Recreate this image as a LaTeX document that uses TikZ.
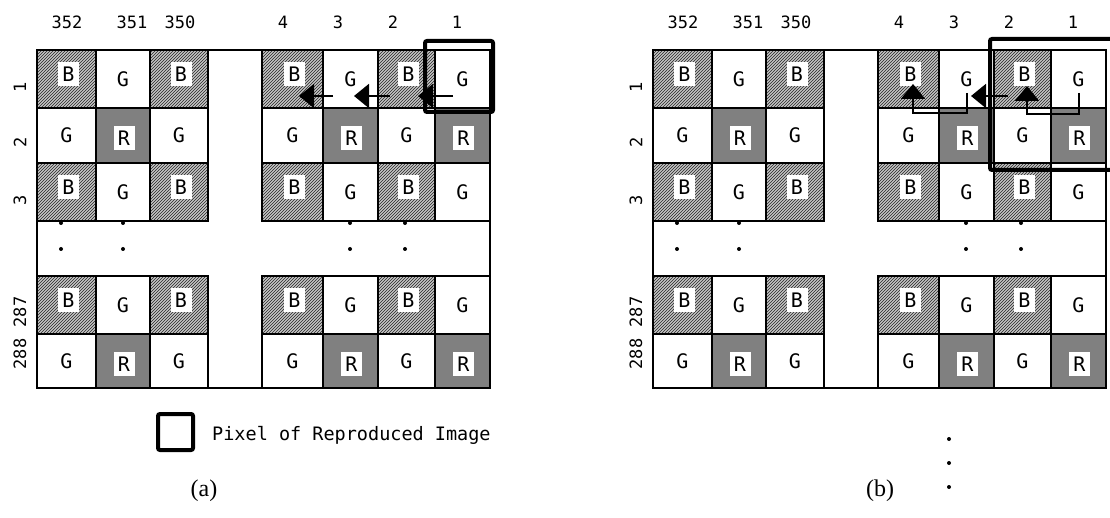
\documentclass[tikz,border=0pt]{standalone}
\usepackage{fontspec}
\setmainfont{Liberation Serif}
\setmonofont{DejaVu Sans Mono}
\usetikzlibrary{patterns,arrows.meta}
\begin{document}
\begin{tikzpicture}[x=1pt,y=-1pt,
  gridline/.style={draw=black,line width=2pt},
  bfill/.style={fill=gray!45,postaction={pattern=north east lines,pattern color=black!85}},
  rfill/.style={fill=black!50},
  letterfont/.style={font=\ttfamily\fontsize{20}{20}\selectfont},
  lbox/.style={letterfont,fill=white,inner sep=0pt,minimum width=21pt,minimum height=24pt},
  glet/.style={letterfont,inner sep=0pt},
  collab/.style={font=\ttfamily\fontsize{17}{17}\selectfont,inner sep=0pt},
  rowlab/.style={collab,rotate=90},
  dotn/.style={circle,fill=black,inner sep=0pt,minimum size=4pt},
  thickbox/.style={draw=black,line width=4pt,rounded corners=2pt},
  arr/.style={line width=2pt,-{Triangle[length=15pt,width=24pt]}},
  caplab/.style={font=\fontsize{24}{24}\selectfont,inner sep=0pt}
]
\useasboundingbox (0,0) rectangle (1110,518);
\fill[white] (0,0) rectangle (1110,518);

\foreach \ox/\pn in {0/a,616/b}{
\begin{scope}[xshift=\ox pt]
  % fills and letters
  \foreach \xa/\xb/\p/\cn in {37/96/1/c352,96/150/0/c351,150/208/1/c350,262/323/1/c4,323/378/0/c3,378/435/1/c2,435/490/0/c1}{
    \foreach \ya/\yb/\q/\rn in {50/108/1/r1,108/163/0/r2,163/221/1/r3,276/334/1/r287,334/388/0/r288}{
      \pgfmathtruncatemacro\t{2*\q+\p}
      \ifnum\t=3
        \path[bfill] (\xa,\ya) rectangle (\xb,\yb);
        \node[lbox] (\pn\rn\cn) at ({(\xa+\xb)/2+2},{(\ya+\yb)/2-5}) {B};
      \else\ifnum\t=0
        \path[rfill] (\xa,\ya) rectangle (\xb,\yb);
        \node[lbox] (\pn\rn\cn) at ({(\xa+\xb)/2+1},{(\ya+\yb)/2+3}) {R};
      \else
        \node[glet] (\pn\rn\cn) at ({(\xa+\xb)/2},{(\ya+\yb)/2}) {G};
      \fi\fi
    }
  }
  % grid lines
  \foreach \xa/\xb in {37/96,96/150,150/208,262/323,323/378,378/435,435/490}{
    \foreach \ya/\yb in {50/108,108/163,163/221,276/334,334/388}{
      \draw[gridline] (\xa,\ya) rectangle (\xb,\yb);
    }
  }
  \draw[gridline] (37,50) rectangle (490,388);
  % column labels
  \foreach \t/\x in {352/67,351/132,350/180,4/283,3/338,2/393,1/457}{
    \node[collab] (\pn col\t) at (\x,22) {\t};
  }
  % row labels
  \foreach \t/\y in {1/87,2/142,3/200,287/312,288/354}{
    \node[rowlab] (\pn row\t) at (20,\y) {\t};
  }
  % dots
  \foreach \x in {61,123,350,405}{
    \node[dotn] (\pn dA\x) at (\x,223) {};
    \node[dotn] (\pn dB\x) at (\x,249) {};
  }
\end{scope}
}

% panel (a) thick box and arrows
\draw[thickbox] (425,41) rectangle (493,112);
\coordinate (a1s) at (453,96); \coordinate (a1e) at (418,96);
\coordinate (a2s) at (390,96); \coordinate (a2e) at (354,96);
\coordinate (a3s) at (333,96); \coordinate (a3e) at (299,96);
\draw[arr] (a1s) -- (a1e);
\draw[arr] (a2s) -- (a2e);
\draw[arr] (a3s) -- (a3e);

% legend
\node[draw,line width=4pt,rounded corners=2pt,minimum width=35pt,minimum height=36pt,inner sep=0pt] (legbox) at (175.5,432) {};
\node[font=\ttfamily\fontsize{18.5}{18.5}\selectfont,inner sep=0pt,anchor=base west] (legtext) at (212,440) {Pixel of Reproduced Image};

% panel (b) thick box and arrows
\begin{scope}
  \clip (0,0) rectangle (1110,518);
  \draw[thickbox] (990,39) rectangle (1140,170);
\end{scope}
\coordinate (h1s) at (1079,93); \coordinate (h1c) at (1027,114); \coordinate (h1e) at (1027,86);
\coordinate (h2s) at (967,93); \coordinate (h2c) at (913,113); \coordinate (h2e) at (913,84);
\coordinate (b1s) at (1008,96); \coordinate (b1e) at (971,96);
\draw[arr,line join=miter] (h1s) |- (h1c) -- (h1e);
\draw[arr,line join=miter] (h2s) |- (h2c) -- (h2e);
\draw[arr] (b1s) -- (b1e);

% captions
\node[caplab] (capa) at (204,491) {(a)};
\node[caplab] (capb) at (880,491) {(b)};
\node[dotn] (vd1) at (949,439) {};
\node[dotn] (vd2) at (949,463) {};
\node[dotn] (vd3) at (949,487) {};
\end{tikzpicture}
\end{document}
